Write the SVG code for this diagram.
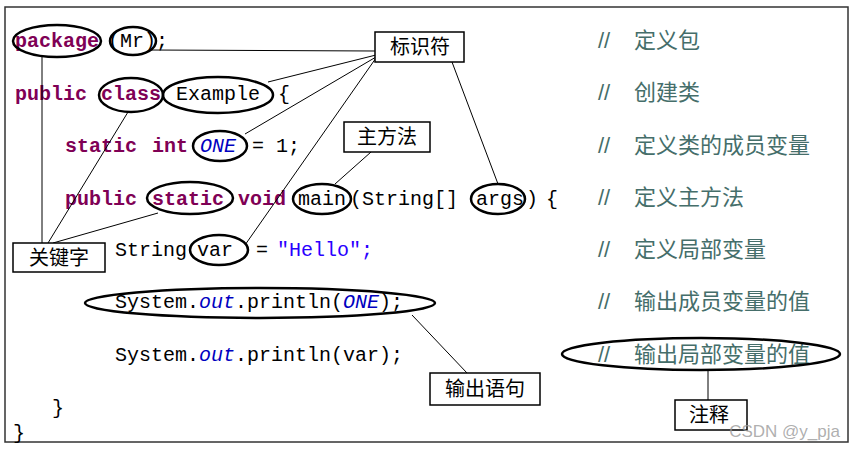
<svg xmlns="http://www.w3.org/2000/svg" width="851" height="450" viewBox="0 0 851 450">
<style>
.code{font-family:"Liberation Mono","Courier New",monospace;font-size:20px;fill:#000;}
.kw{font-weight:bold;fill:#7f0055;}
.fld{font-style:italic;fill:#0000c0;}
.str{fill:#2a00ff;}
.cm{font-family:"Liberation Sans","Noto Sans CJK SC",sans-serif;font-size:22px;fill:#456e6a;}
.lbl{font-family:"Liberation Sans","Noto Sans CJK SC",sans-serif;font-size:20px;fill:#000;text-anchor:middle;}
.box{fill:#fff;stroke:#000;stroke-width:1.5;}
.ell{fill:none;stroke:#000;stroke-width:2.5;}
.con{stroke:#000;stroke-width:1;fill:none;}
</style>
<rect x="0" y="0" width="851" height="450" fill="#fff"/>
<rect x="5" y="7" width="843" height="435" fill="none" stroke="#333" stroke-width="1.5"/>

<g id="code">
<text class="code" y="47"><tspan x="15" class="kw">package</tspan><tspan x="108">(Mr);</tspan></text>
<text class="code" y="100"><tspan x="15" class="kw">public</tspan><tspan x="101" class="kw">class</tspan><tspan x="176">Example</tspan><tspan x="278">{</tspan></text>
<text class="code" y="152"><tspan x="65" class="kw">static</tspan><tspan x="152" class="kw">int</tspan><tspan x="200" class="fld">ONE</tspan><tspan x="252">= 1;</tspan></text>
<text class="code" y="205"><tspan x="65" class="kw">public</tspan><tspan x="152" class="kw">static</tspan><tspan x="238" class="kw">void</tspan><tspan x="298">main</tspan><tspan x="350">(String[]</tspan><tspan x="476">args</tspan><tspan x="526">)</tspan><tspan x="546">{</tspan></text>
<text class="code" y="256"><tspan x="115">String</tspan><tspan x="197">var</tspan><tspan x="256">=</tspan><tspan x="277" class="str">"Hello";</tspan></text>
<text class="code" y="308" x="115">System.<tspan class="fld">out</tspan>.println(<tspan class="fld">ONE</tspan>);</text>
<text class="code" y="361" x="115">System.<tspan class="fld">out</tspan>.println(var);</text>
<text class="code" y="414" x="52">}</text>
<text class="code" y="439" x="13">}</text>
</g>

<g id="comments">
<text class="cm" y="48"><tspan x="598">//</tspan><tspan x="634">定义包</tspan></text>
<text class="cm" y="100"><tspan x="598">//</tspan><tspan x="634">创建类</tspan></text>
<text class="cm" y="153"><tspan x="598">//</tspan><tspan x="634">定义类的成员变量</tspan></text>
<text class="cm" y="205"><tspan x="598">//</tspan><tspan x="634">定义主方法</tspan></text>
<text class="cm" y="257"><tspan x="598">//</tspan><tspan x="634">定义局部变量</tspan></text>
<text class="cm" y="309"><tspan x="598">//</tspan><tspan x="634">输出成员变量的值</tspan></text>
<text class="cm" y="362"><tspan x="598">//</tspan><tspan x="634">输出局部变量的值</tspan></text>
</g>

<g id="connectors">
<line class="con" x1="150" y1="50" x2="376" y2="51"/>
<line class="con" x1="268" y1="82" x2="376" y2="55"/>
<line class="con" x1="245" y1="134" x2="376" y2="57"/>
<line class="con" x1="245" y1="245" x2="376" y2="58"/>
<line class="con" x1="452" y1="62" x2="498" y2="184"/>
<line class="con" x1="371" y1="152" x2="335" y2="184"/>
<line class="con" x1="42" y1="57" x2="42" y2="243"/>
<line class="con" x1="128" y1="112" x2="48" y2="243"/>
<line class="con" x1="158" y1="213" x2="53" y2="243"/>
<line class="con" x1="412" y1="315" x2="467" y2="373"/>
<line class="con" x1="708" y1="370" x2="708" y2="400"/>
</g>

<g id="ellipses">
<ellipse class="ell" cx="57" cy="41" rx="44" ry="16"/>
<ellipse class="ell" cx="133" cy="41" rx="23" ry="14"/>
<ellipse class="ell" cx="131" cy="95" rx="32" ry="17"/>
<ellipse class="ell" cx="218" cy="95" rx="55" ry="18"/>
<ellipse class="ell" cx="220" cy="146" rx="27" ry="15"/>
<ellipse class="ell" cx="190" cy="198" rx="43" ry="16"/>
<ellipse class="ell" cx="322" cy="199" rx="29" ry="15"/>
<ellipse class="ell" cx="498" cy="199" rx="27" ry="15"/>
<ellipse class="ell" cx="219" cy="250" rx="29" ry="15"/>
<ellipse class="ell" cx="260" cy="303" rx="175" ry="15"/>
<ellipse class="ell" cx="701" cy="354" rx="139" ry="16"/>
</g>

<g id="node-biaoshifu">
<rect class="box" x="375" y="32" width="89" height="30"/>
<text class="lbl" x="420" y="54">标识符</text>
</g>
<g id="node-zhufangfa">
<rect class="box" x="344" y="122" width="86" height="30"/>
<text class="lbl" x="387" y="144">主方法</text>
</g>
<g id="node-guanjianzi">
<rect class="box" x="13" y="243" width="92" height="29"/>
<text class="lbl" x="59" y="265">关键字</text>
</g>
<g id="node-shuchuyuju">
<rect class="box" x="430" y="373" width="110" height="32"/>
<text class="lbl" x="485" y="396">输出语句</text>
</g>
<g id="node-zhushi">
<rect class="box" x="675" y="400" width="72" height="30"/>
<text class="lbl" x="709" y="422">注释</text>
</g>

<text x="840" y="437" text-anchor="end" font-family="Liberation Sans, sans-serif" font-size="17" fill="#9a9a9a" fill-opacity="0.8">CSDN @y_pja</text>
</svg>
